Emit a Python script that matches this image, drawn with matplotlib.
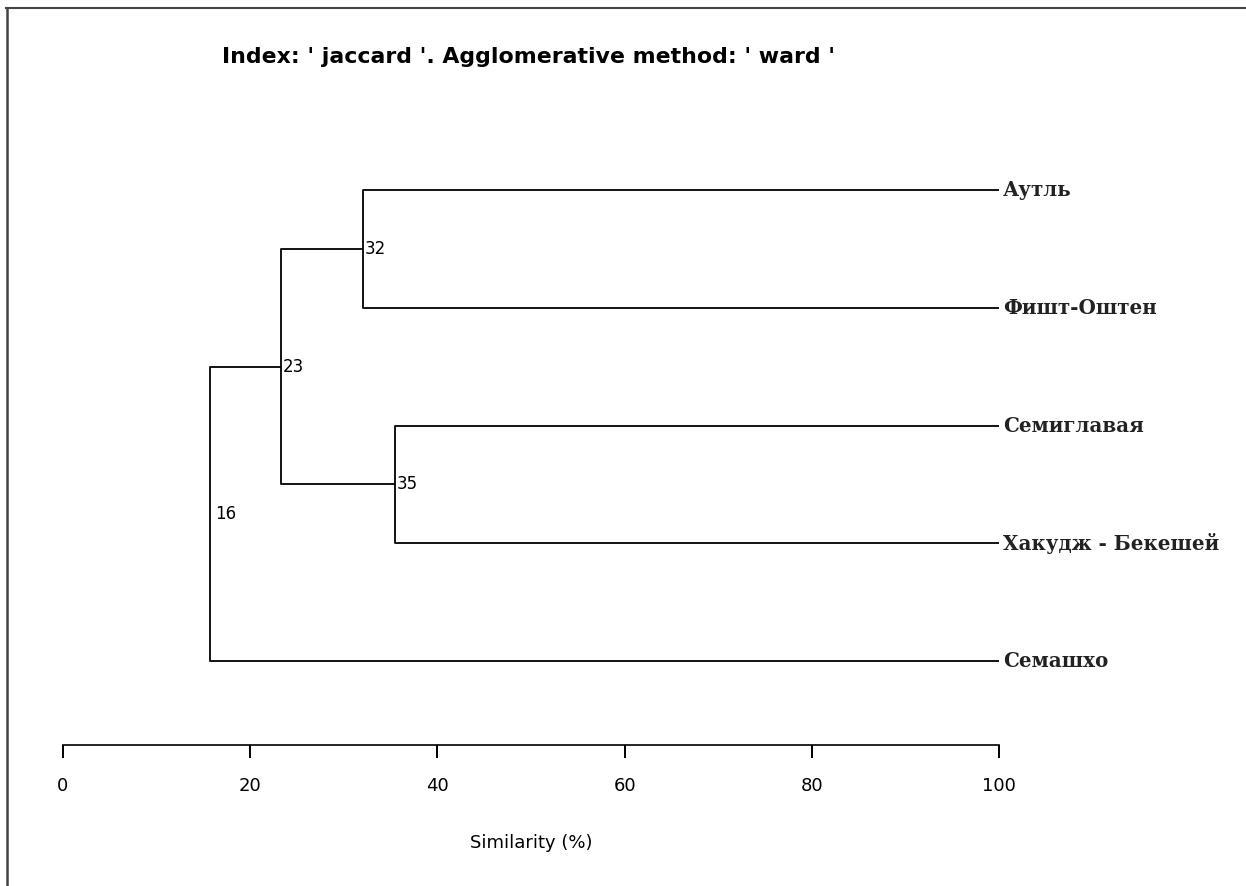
import numpy as np
import matplotlib.pyplot as plt
from matplotlib.lines import Line2D

# leaves from top to bottom
leaves = ['Аутль', 'Фишт-Оштен', 'Семиглавая', 'Хакудж - Бекешей', 'Семашхо']
# merges: (left child, right child, similarity); children < 0 are leaves (-1 = first leaf)
merges = [(-1, -2, 32), (-3, -4, 35.5), (0, 1, 23.3), (2, -5, 15.7)]
node_labels = ['32', '35', '23', '16']
xticks = [0, 20, 40, 60, 80, 100]

W, H = 1246, 886
fig = plt.figure(figsize=(W / 100, H / 100), dpi=100)

# axes placed so that 0..100 spans the pixel range of the original
left, right = 63 / W, 999 / W
bottom, top = 1 - 745 / H, 1 - 100 / H
ax = fig.add_axes([left, bottom, right - left, top - bottom])
ax.set_xlim(0, 100)
ax.set_ylim(5.713, 0.236)

pos = {}
for i in range(len(leaves)):
    pos[-(i + 1)] = (100, i + 1)

for k, (a, b, s) in enumerate(merges):
    xa, ya = pos[a]
    xb, yb = pos[b]
    ax.plot([xa, s, s, xb], [ya, ya, yb, yb], color='black', lw=1.3, solid_capstyle='butt')
    ym = (ya + yb) / 2
    pos[k] = (s, ym)
    dx = 0.6 if node_labels[k] == '16' else 0.2
    ax.text(s + dx, ym, node_labels[k], fontsize=12, family='DejaVu Sans',
            va='center', ha='left')

for i, name in enumerate(leaves):
    ax.text(100.4, i + 1, name, fontsize=14.3, family='DejaVu Serif',
            fontweight='bold', va='center', ha='left', color='#222222')

for sp in ['top', 'right', 'left']:
    ax.spines[sp].set_visible(False)
ax.spines['bottom'].set_linewidth(1.2)
ax.set_yticks([])
ax.set_xticks(xticks)
ax.set_xticklabels([str(t) for t in xticks], family='DejaVu Sans', fontsize=13)
ax.tick_params(axis='x', direction='out', length=9, width=1.4, pad=14)
ax.set_xlabel('Similarity (%)', family='DejaVu Sans', fontsize=13, labelpad=28)

fig.text(222 / W, 1 - 57 / H, "Index: ' jaccard '. Agglomerative method: ' ward '",
         fontsize=15.8, fontweight='bold', family='DejaVu Sans', va='center', ha='left')

# frame lines on top and left edges
fig.add_artist(Line2D([6 / W, 1], [1 - 8 / H, 1 - 8 / H], color='#444444', lw=1.5))
fig.add_artist(Line2D([7 / W, 7 / W], [0, 1 - 8 / H], color='#444444', lw=1.8))

fig.savefig('out.png', dpi=100)
